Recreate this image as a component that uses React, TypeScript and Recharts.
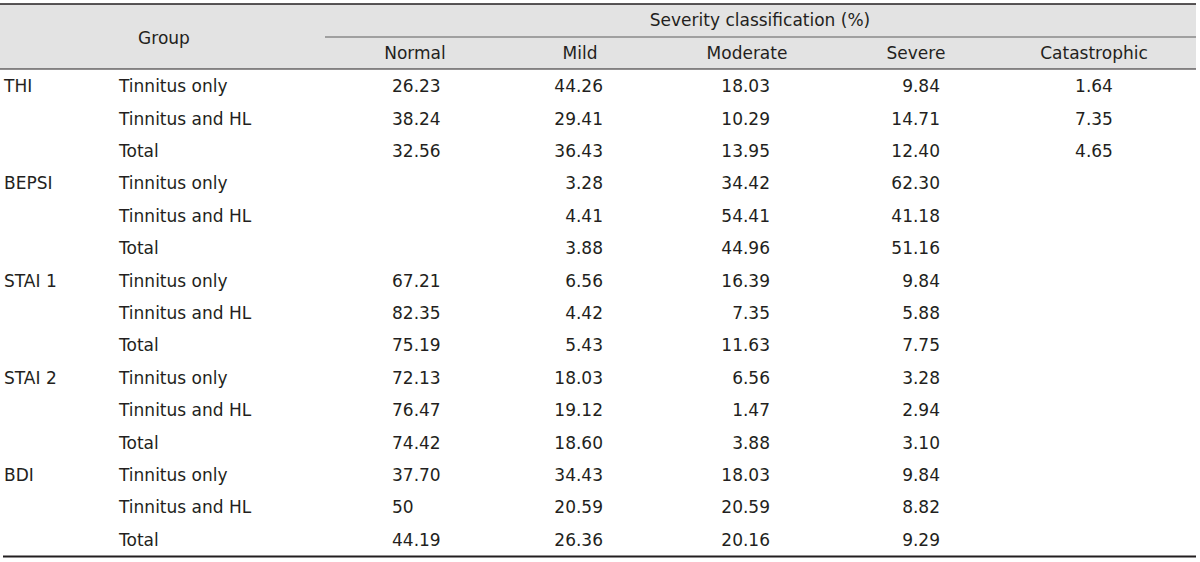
import React from "react";
import { ScatterChart, Scatter, XAxis, YAxis, Customized } from "recharts";

// ---- data ----
const severityLabels = ["Normal", "Mild", "Moderate", "Severe", "Catastrophic"];
const measures = ["THI", "BEPSI", "STAI 1", "STAI 2", "BDI"];
const groups = ["Tinnitus only", "Tinnitus and HL", "Total"];
const normalValues = ["26.23", "38.24", "32.56", "", "", "", "67.21", "82.35", "75.19", "72.13", "76.47", "74.42", "37.70", "50", "44.19"];
const mildValues = ["44.26", "29.41", "36.43", "3.28", "4.41", "3.88", "6.56", "4.42", "5.43", "18.03", "19.12", "18.60", "34.43", "20.59", "26.36"];
const moderateValues = ["18.03", "10.29", "13.95", "34.42", "54.41", "44.96", "16.39", "7.35", "11.63", "6.56", "1.47", "3.88", "18.03", "20.59", "20.16"];
const severeValues = ["9.84", "14.71", "12.40", "62.30", "41.18", "51.16", "9.84", "5.88", "7.75", "3.28", "2.94", "3.10", "9.84", "8.82", "9.29"];
const catastrophicValues = ["1.64", "7.35", "4.65", "", "", "", "", "", "", "", "", "", "", "", ""];

const columnValues = [normalValues, mildValues, moderateValues, severeValues, catastrophicValues];
const rowIndices = measures.flatMap((_, m) => groups.map((__, g) => m * groups.length + g));

// ---- layout / style ----
const W = 1200;
const H = 562;
const FONT = "'Century Gothic', 'DejaVu Sans', sans-serif";
const FS = 17;
const TEXT = "#231f20";
const columnLayout = [
  { dx: 0, anchor: "start", off: -23 },
  { dx: -3, anchor: "end", off: 23 },
  { dx: -4, anchor: "end", off: 23 },
  { dx: -3, anchor: "end", off: 24 },
  { dx: 7, anchor: "middle", off: 0 },
];

const HeaderTick = (props: any) => {
  const { x, y, payload } = props;
  const i = payload.value as number;
  const lay = columnLayout[i];
  return (
    <text x={x + lay.dx} y={y - 9} dy="0.35em" textAnchor="middle" fill={TEXT} fontFamily={FONT} fontSize={FS}>
      {severityLabels[i]}
    </text>
  );
};

const RowTick = (props: any) => {
  const { y, payload } = props;
  const i = payload.value as number;
  const m = Math.floor(i / groups.length);
  const g = i % groups.length;
  return (
    <g>
      {g === 0 && (
        <text x={4} y={y} dy="0.35em" textAnchor="start" fill={TEXT} fontFamily={FONT} fontSize={FS}>
          {measures[m]}
        </text>
      )}
      <text x={119} y={y} dy="0.35em" textAnchor="start" fill={TEXT} fontFamily={FONT} fontSize={FS}>
        {groups[g]}
      </text>
    </g>
  );
};

const makeCellShape = (c: number) => (props: any) => {
  const { cx, cy, payload } = props;
  const lay = columnLayout[c];
  return (
    <text x={cx + lay.dx + lay.off} y={cy} dy="0.35em" textAnchor={lay.anchor as any} fill={TEXT} fontFamily={FONT} fontSize={FS}>
      {payload.text}
    </text>
  );
};

const Header = () => (
  <g>
    <line x1={0} x2={1196} y1={4} y2={4} stroke={TEXT} strokeWidth={1.6} />
    <line x1={325} x2={1196} y1={37} y2={37} stroke="#8a8a8a" strokeWidth={1.6} />
    <line x1={0} x2={1196} y1={69} y2={69} stroke={TEXT} strokeWidth={1.2} />
    <line x1={3} x2={1196} y1={556.5} y2={556.5} stroke={TEXT} strokeWidth={2} />
    <text x={164} y={38} dy="0.35em" textAnchor="middle" fill={TEXT} fontFamily={FONT} fontSize={FS}>
      Group
    </text>
    <text x={760} y={20} dy="0.35em" textAnchor="middle" fill={TEXT} fontFamily={FONT} fontSize={FS}>
      Severity classification (%)
    </text>
  </g>
);

export default function App() {
  return (
    <div style={{ position: "absolute", left: 0, top: 0, width: W, height: H, background: "#ffffff" }}>
      <div style={{ position: "absolute", left: 0, top: 4, width: 1196, height: 65, background: "#e3e3e3" }} />
      <div style={{ position: "absolute", left: 0, top: 0 }}>
        <ScatterChart width={W} height={H} margin={{ top: 4, right: 29, bottom: 6, left: 0 }}>
          <XAxis
            type="number"
            dataKey="col"
            domain={[-0.5, 4.5]}
            ticks={[0, 1, 2, 3, 4]}
            interval={0}
            orientation="top"
            height={66}
            axisLine={false}
            tickLine={false}
            tick={<HeaderTick />}
          />
          <YAxis
            type="number"
            dataKey="row"
            domain={[-0.5, 14.5]}
            ticks={rowIndices}
            interval={0}
            reversed
            width={331}
            axisLine={false}
            tickLine={false}
            tick={<RowTick />}
          />
          <Customized component={Header} />
          {columnValues.map((vals, c) => (
            <Scatter
              key={severityLabels[c]}
              name={severityLabels[c]}
              data={vals.map((v, r) => ({ col: c, row: r, text: v })).filter((d) => d.text !== "")}
              shape={makeCellShape(c)}
              isAnimationActive={false}
            />
          ))}
        </ScatterChart>
      </div>
    </div>
  );
}
